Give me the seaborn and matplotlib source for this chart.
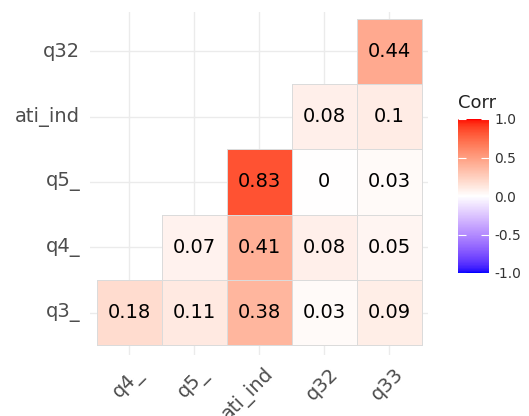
import numpy as np
import pandas as pd
import matplotlib
matplotlib.use("Agg")
import matplotlib.pyplot as plt
import matplotlib.transforms as mtransforms
import seaborn as sns
from matplotlib.colors import ListedColormap

# ---- data ----
x_labels = ["q4_", "q5_", "ati_ind", "q32", "q33"]
y_labels = ["q32", "ati_ind", "q5_", "q4_", "q3_"]   # top to bottom
row_q32 = [np.nan, np.nan, np.nan, np.nan, 0.44]
row_ati = [np.nan, np.nan, np.nan, 0.08, 0.10]
row_q5 = [np.nan, np.nan, 0.83, 0.00, 0.03]
row_q4 = [np.nan, 0.07, 0.41, 0.08, 0.05]
row_q3 = [0.18, 0.11, 0.38, 0.03, 0.09]
cbar_ticks = [-1.0, -0.5, 0.0, 0.5, 1.0]

corr = pd.DataFrame([row_q32, row_ati, row_q5, row_q4, row_q3],
                    index=y_labels, columns=x_labels)
labels = corr.map(lambda v: "" if pd.isna(v) else f"{v:g}")

# ---- Lab gradient blue-white-red like ggplot ----
def srgb_to_lab(c):
    c = np.asarray(c, float)
    lin = np.where(c <= 0.04045, c / 12.92, ((c + 0.055) / 1.055) ** 2.4)
    M = np.array([[0.4124, 0.3576, 0.1805],
                  [0.2126, 0.7152, 0.0722],
                  [0.0193, 0.1192, 0.9505]])
    xyz = M @ lin
    wp = np.array([0.95047, 1.0, 1.08883])
    t = xyz / wp
    f = np.where(t > 216 / 24389, np.cbrt(t), (24389 / 27 * t + 16) / 116)
    return np.array([116 * f[1] - 16, 500 * (f[0] - f[1]), 200 * (f[1] - f[2])])

def lab_to_srgb(lab):
    L, a, b = lab
    fy = (L + 16) / 116
    fx = fy + a / 500
    fz = fy - b / 200
    def finv(f):
        return np.where(f ** 3 > 216 / 24389, f ** 3, (116 * f - 16) / (24389 / 27))
    wp = np.array([0.95047, 1.0, 1.08883])
    xyz = np.array([finv(fx), finv(fy), finv(fz)]) * wp
    Minv = np.array([[3.2406, -1.5372, -0.4986],
                     [-0.9689, 1.8758, 0.0415],
                     [0.0557, -0.2040, 1.0570]])
    lin = np.clip(Minv @ xyz, 0, 1)
    c = np.where(lin <= 0.0031308, 12.92 * lin, 1.055 * lin ** (1 / 2.4) - 0.055)
    return np.clip(c, 0, 1)

blue = srgb_to_lab([0, 0, 1])
white = srgb_to_lab([1, 1, 1])
red = srgb_to_lab([1, 0, 0])
cols = []
for v in np.linspace(-1, 1, 256):
    if v < 0:
        lab = white + (blue - white) * (-v)
    else:
        lab = white + (red - white) * v
    cols.append(lab_to_srgb(lab))
cmap = ListedColormap(cols)

# ---- figure ----
fig = plt.figure(figsize=(5.29, 4.16), dpi=100)
W, H = 529, 416
ax = fig.add_axes([90 / W, (H - 355) / H, (428 - 90) / W, (355 - 12) / H])

sns.heatmap(corr, ax=ax, cmap=cmap, vmin=-1, vmax=1, cbar=False,
            annot=labels, fmt="", annot_kws={"fontsize": 14, "color": "black"},
            linewidths=0.6, linecolor="#DCDCDC", square=False)

mesh = ax.collections[0]
# no outlines on empty (masked) cells
flat = corr.to_numpy().ravel()
ec = [(0.86, 0.86, 0.86, 1.0) if not np.isnan(v) else (0, 0, 0, 0) for v in flat]
mesh.set_edgecolors(ec)
mesh.set_zorder(2)
for t in ax.texts:
    t.set_zorder(3)

ax.set_xlim(-0.1, 5.1)
ax.set_ylim(5.15, -0.1)
ax.set_axisbelow(True)
ax.grid(True, color="#EBEBEB", linewidth=1.0)
for s in ax.spines.values():
    s.set_visible(False)
ax.set_xlabel("")
ax.set_ylabel("")
ax.tick_params(length=0, labelsize=14, labelcolor="#4D4D4D")
ax.tick_params(axis="y", pad=7)
plt.setp(ax.get_yticklabels(), rotation=0)
offset = mtransforms.ScaledTranslation(5 / 100, -4 / 100, fig.dpi_scale_trans)
for lbl in ax.get_xticklabels():
    lbl.set_rotation(45)
    lbl.set_ha("right")
    lbl.set_va("top")
    lbl.set_rotation_mode("anchor")
    lbl.set_transform(lbl.get_transform() + offset)

# ---- colorbar ----
cax = fig.add_axes([458 / W, (H - 273) / H, 31 / W, 154 / H])
cb = fig.colorbar(mesh, cax=cax, ticks=cbar_ticks)
cb.outline.set_visible(False)
cax.set_yticklabels([f"{t:.1f}" for t in cbar_ticks])
cax.yaxis.set_ticks_position("both")
cax.tick_params(direction="in", length=6, width=0.8, color="white",
                labelsize=10, labelcolor="#333333", pad=4)
cax.tick_params(labelleft=False, labelright=True)
fig.text(458 / W, (H - 103) / H, "Corr", fontsize=13, color="#222222",
         ha="left", va="center")

fig.savefig("out.png", dpi=100)
